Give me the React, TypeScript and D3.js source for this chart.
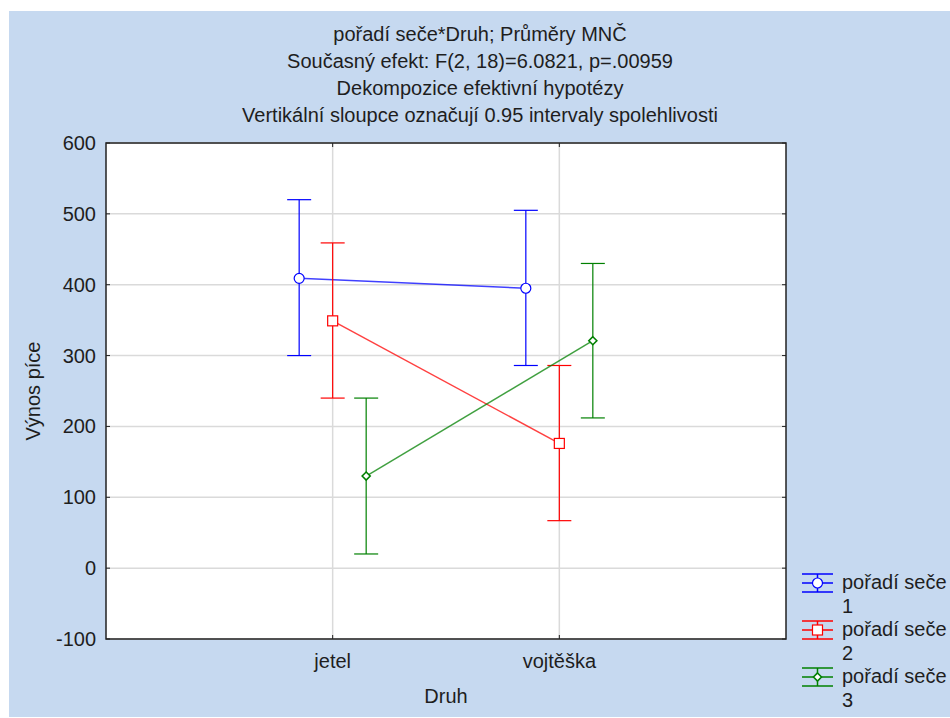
import React from 'react';
import * as d3 from 'd3';

// chart data
const categories = ['jetel', 'vojtěška'];
const seriesNames = ['pořadí seče 1', 'pořadí seče 2', 'pořadí seče 3'];
const seriesColors = ['#0000FF', '#FF0000', '#008000'];
const seriesMarkers = ['circle', 'square', 'diamond'];
const meanValues = [
  [409, 395],
  [349, 176],
  [130, 321],
];
const lowerValues = [
  [300, 286],
  [240, 67],
  [20, 212],
];
const upperValues = [
  [520, 505],
  [459, 286],
  [240, 430],
];
const yTicks = [-100, 0, 100, 200, 300, 400, 500, 600];
const titleLines = [
  'pořadí seče*Druh; Průměry MNČ',
  'Současný efekt: F(2, 18)=6.0821, p=.00959',
  'Dekompozice efektivní hypotézy',
  'Vertikální sloupce označují 0.95 intervaly spolehlivosti',
];

const W = 950;
const H = 718;
const plot = { left: 106, top: 143, right: 786, bottom: 639 };
const FONT = '"Liberation Sans", Arial, sans-serif';
const TEXT = '#1e1e1e';
const FS = 20;

const Marker: React.FC<{ kind: string; x: number; y: number; color: string }> = ({ kind, x, y, color }) => {
  if (kind === 'circle') {
    return <circle cx={x} cy={y} r={5} fill="white" stroke={color} strokeWidth={1.2} />;
  }
  if (kind === 'square') {
    return <rect x={x - 5} y={y - 5} width={10} height={10} fill="white" stroke={color} strokeWidth={1.2} />;
  }
  return (
    <path
      d={`M${x},${y - 4}L${x + 4},${y}L${x},${y + 4}L${x - 4},${y}Z`}
      fill="white"
      stroke={color}
      strokeWidth={1.6}
    />
  );
};

export default function App() {
  const y = d3.scaleLinear().domain([-100, 600]).range([plot.bottom, plot.top]);
  const x = d3.scaleLinear().domain([0, categories.length + 1]).range([plot.left, plot.right]);
  const offset = d3.scaleLinear().domain([0, seriesNames.length - 1]).range([-33.5, 33.5]);
  const capHalf = 12;

  const line = d3
    .line<number>()
    .x((_, i) => x(i + 1))
    .y((d) => y(d));

  return (
    <svg
      width={W}
      height={H}
      style={{ position: 'absolute', left: 0, top: 0, background: 'white' }}
      fontFamily={FONT}
    >
      <rect x={9} y={11} width={W - 9} height={706} fill="#C6D9F0" />

      {titleLines.map((t, i) => (
        <text key={i} x={480} y={40.5 + i * 27} textAnchor="middle" fontSize={FS} fill={TEXT}>
          {t}
        </text>
      ))}

      <rect
        x={plot.left}
        y={plot.top}
        width={plot.right - plot.left}
        height={plot.bottom - plot.top}
        fill="white"
      />

      {/* grid */}
      {yTicks.map((t) => (
        <line key={t} x1={plot.left} x2={plot.right} y1={y(t)} y2={y(t)} stroke="#DADADA" strokeWidth={1.5} />
      ))}
      {categories.map((c, i) => (
        <line key={c} x1={x(i + 1)} x2={x(i + 1)} y1={plot.top} y2={plot.bottom} stroke="#DADADA" strokeWidth={1.5} />
      ))}

      {/* ticks */}
      {yTicks.map((t) => (
        <g key={t}>
          <line x1={plot.left} x2={plot.left + 4} y1={y(t)} y2={y(t)} stroke="#222" />
          <line x1={plot.right - 4} x2={plot.right} y1={y(t)} y2={y(t)} stroke="#222" />
          <text x={96} y={y(t) + 7} textAnchor="end" fontSize={FS} fill={TEXT}>
            {t}
          </text>
        </g>
      ))}
      {categories.map((c, i) => (
        <g key={c}>
          <line x1={x(i + 1)} x2={x(i + 1)} y1={plot.top} y2={plot.top + 4} stroke="#222" />
          <line x1={x(i + 1)} x2={x(i + 1)} y1={plot.bottom - 4} y2={plot.bottom} stroke="#222" />
          <text x={x(i + 1)} y={668} textAnchor="middle" fontSize={FS} fill={TEXT}>
            {c}
          </text>
        </g>
      ))}

      {/* series */}
      {seriesNames.map((name, s) => {
        const color = seriesColors[s];
        const dx = offset(s);
        return (
          <g key={name} transform={`translate(${dx},0)`}>
            <path d={line(meanValues[s]) || ''} fill="none" stroke={color} strokeOpacity={0.75} strokeWidth={1.5} />
            {categories.map((c, i) => {
              const cx = x(i + 1);
              return (
                <g key={c} stroke={color} strokeWidth={1.2}>
                  <line x1={cx} x2={cx} y1={y(lowerValues[s][i])} y2={y(upperValues[s][i])} />
                  <line x1={cx - capHalf} x2={cx + capHalf} y1={y(upperValues[s][i])} y2={y(upperValues[s][i])} />
                  <line x1={cx - capHalf} x2={cx + capHalf} y1={y(lowerValues[s][i])} y2={y(lowerValues[s][i])} />
                </g>
              );
            })}
            {categories.map((c, i) => (
              <Marker key={c} kind={seriesMarkers[s]} x={x(i + 1)} y={y(meanValues[s][i])} color={color} />
            ))}
          </g>
        );
      })}

      <rect
        x={plot.left}
        y={plot.top}
        width={plot.right - plot.left}
        height={plot.bottom - plot.top}
        fill="none"
        stroke="#222"
        strokeWidth={1.5}
      />

      {/* axis titles */}
      <text x={446} y={703} textAnchor="middle" fontSize={FS} fill={TEXT}>
        Druh
      </text>
      <text
        transform={`translate(40,${(plot.top + plot.bottom) / 2}) rotate(-90)`}
        textAnchor="middle"
        fontSize={FS}
        fill={TEXT}
      >
        Výnos píce
      </text>

      {/* legend */}
      {seriesNames.map((name, s) => {
        const color = seriesColors[s];
        const cy = 583 + s * 47;
        const lx = 802;
        const rx = 833;
        const mx = (lx + rx) / 2;
        const words = name.split(' ');
        return (
          <g key={name}>
            <g stroke={color} strokeWidth={1.5}>
              <line x1={lx} x2={rx} y1={cy - 9} y2={cy - 9} />
              <line x1={lx} x2={rx} y1={cy} y2={cy} />
              <line x1={lx} x2={rx} y1={cy + 9} y2={cy + 9} />
              <line x1={mx} x2={mx} y1={cy - 9} y2={cy + 9} />
            </g>
            <Marker kind={seriesMarkers[s]} x={mx} y={cy} color={color} />
            <text x={842} y={cy + 6} fontSize={FS} fill={TEXT}>
              {words.slice(0, 2).join(' ')}
            </text>
            <text x={842} y={cy + 29.5} fontSize={FS} fill={TEXT}>
              {words[2]}
            </text>
          </g>
        );
      })}
    </svg>
  );
}
